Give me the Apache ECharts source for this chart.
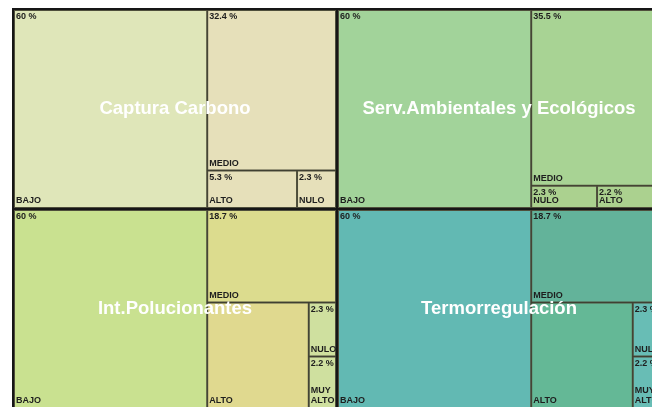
<!DOCTYPE html>
<html lang="es">
<head>
    <meta charset="UTF-8">
    <title>Treemap servicios</title>
    <script src="https://cdn.jsdelivr.net/npm/echarts@6/dist/echarts.min.js"></script>
    <style>
        html, body { margin: 0; padding: 0; background: #fff; }
    </style>
</head>
<body>
    <div id="main" style="width: 652px;height:407px;"></div>

    <script>
        // grupos (orden de dibujo: arriba-izq, abajo-izq, arriba-der, abajo-der)
        const groups = ['Captura Carbono', 'Int.Polucionantes', 'Serv.Ambientales y Ecológicos', 'Termorregulación']

        // niveles y porcentajes de cada grupo, ya ordenados de mayor a menor
        const capturaNames = ['BAJO', 'MEDIO', 'ALTO', 'NULO']
        const capturaPct = [60, 32.4, 5.3, 2.3]
        const polucNames = ['BAJO', 'MEDIO', 'ALTO', 'NULO', 'MUY ALTO']
        const polucPct = [60, 18.7, 16.8, 2.3, 2.2]
        const servNames = ['BAJO', 'MEDIO', 'NULO', 'ALTO']
        const servPct = [60, 35.5, 2.3, 2.2]
        const termoNames = ['BAJO', 'MEDIO', 'ALTO', 'NULO', 'MUY ALTO']
        const termoPct = [60, 18.7, 16.8, 2.3, 2.2]

        // colores
        const capturaColors = ['#dfe6b9', '#e6e0ba', '#e6e0ba', '#e6e0ba']
        const polucColors = ['#c9e190', '#dcdc8e', '#e0d98f', '#cfe09f', '#cfe09f']
        const servColors = ['#a2d39a', '#a8d394', '#abd18f', '#abd18f']
        const termoColors = ['#62b9b3', '#63b39a', '#64b896', '#68bdb5', '#68bdb5']

        const leafNames = [capturaNames, polucNames, servNames, termoNames]
        const leafPct = [capturaPct, polucPct, servPct, termoPct]
        const leafColors = [capturaColors, polucColors, servColors, termoColors]

        // porcentajes tapados por la etiqueta del grupo (no se dibujan)
        const hiddenPct = ['Int.Polucionantes/ALTO', 'Termorregulación/ALTO']

        const font = 'Liberation Sans, Arial, sans-serif'
        const clear = 'rgba(0,0,0,0)'

        // arbol con valores enteros (pct*10) para evitar errores de coma flotante
        function buildTree(withColor) {
            return groups.map((g, gi) => ({
                name: g,
                children: leafNames[gi].map((n, i) => {
                    const item = {
                        name: n,
                        value: Math.round(leafPct[gi][i] * 10),
                        pct: leafPct[gi][i],
                        itemStyle: { color: withColor ? leafColors[gi][i] : clear }
                    }
                    if (withColor && hiddenPct.includes(g + '/' + n)) item.label = { show: false }
                    return item
                })
            }))
        }

        const base = {
            type: 'treemap',
            left: 12, top: 8, width: 650, height: 402,
            roam: false, nodeClick: false, sort: false,
            squareRatio: 1,
            breadcrumb: { show: false },
            silent: true,
            animation: false
        }

        function levels(line1, line2) {
            return [
                { itemStyle: { borderWidth: 1, borderColor: line1, gapWidth: 0 } },
                { itemStyle: { borderWidth: 1, borderColor: line1, gapWidth: 0 } },
                { itemStyle: { borderWidth: 1, borderColor: line2 } }
            ]
        }

        const leafLabel = {
            fontFamily: font, fontSize: 9, fontWeight: 'bold', color: '#1e1e1e',
            distance: 0, padding: [1, 1, 1, 1], lineHeight: 10, overflow: 'none'
        }

        const chart = echarts.init(document.getElementById('main'))
        chart.setOption({
            series: [
                // rectangulos y porcentajes
                Object.assign({}, base, {
                    z: 2,
                    levels: levels('#161616', '#4f4f3c'),
                    label: Object.assign({}, leafLabel, {
                        position: 'insideTopLeft',
                        formatter: p => p.data.pct + ' %'
                    }),
                    data: buildTree(true)
                }),
                // nombres de nivel abajo a la izquierda
                Object.assign({}, base, {
                    z: 3,
                    levels: levels(clear, clear),
                    label: Object.assign({}, leafLabel, {
                        position: 'insideBottomLeft',
                        formatter: p => p.name.replace(' ', '\n')
                    }),
                    data: buildTree(false)
                }),
                // nombres de grupo centrados
                Object.assign({}, base, {
                    z: 4,
                    levels: [
                        { itemStyle: { borderWidth: 1, borderColor: clear, gapWidth: 0 } },
                        { itemStyle: { borderWidth: 1, borderColor: clear, color: clear } }
                    ],
                    label: {
                        position: 'inside', fontFamily: font, fontSize: 18.5, fontWeight: 'bold',
                        color: '#ffffff', overflow: 'none'
                    },
                    data: groups.map(g => ({ name: g, value: 1000 }))
                })
            ]
        })
    </script>
</body>
</html>
